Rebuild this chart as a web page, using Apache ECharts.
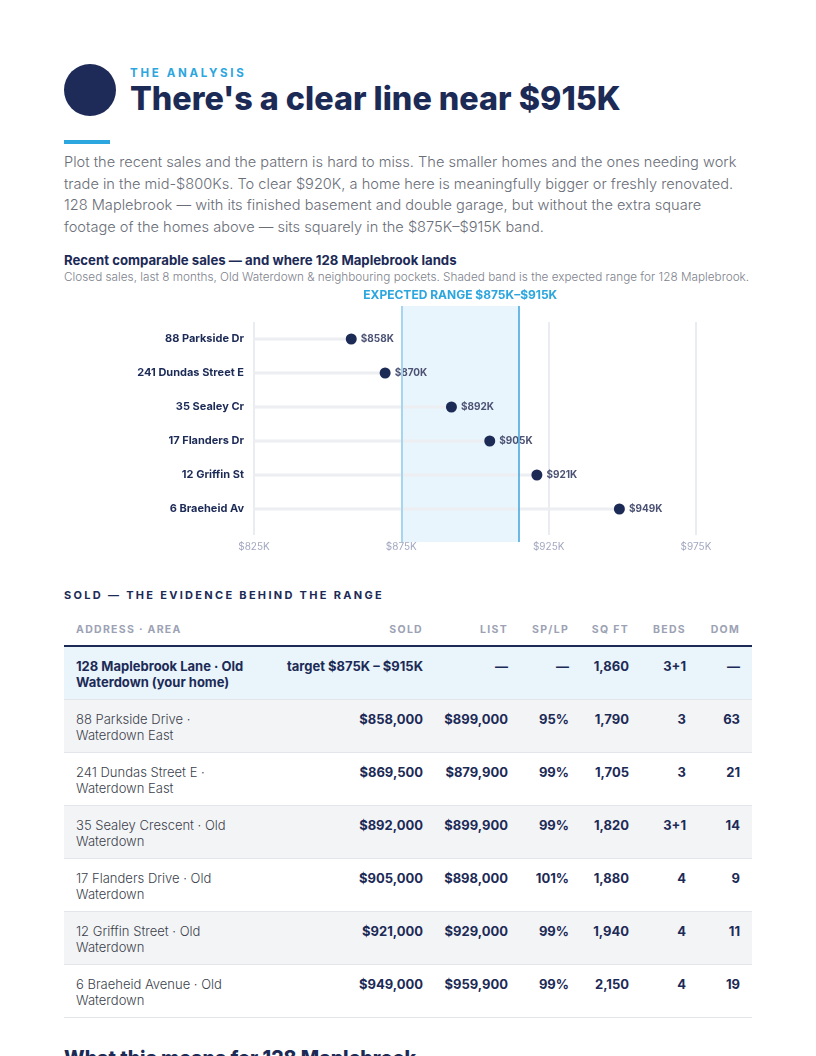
<!DOCTYPE html>
<html>
<head>
<meta charset="utf-8">
<script src="https://cdn.jsdelivr.net/npm/echarts@6/dist/echarts.min.js"></script>
<style>
  html, body { margin: 0; padding: 0; background: #fff; }
  body { width: 816px; height: 1056px; position: relative; overflow: hidden; font-family: Inter, "Noto Sans", sans-serif; color: #1c2a56; }
  .abs { position: absolute; }
  .dot { left: 64px; top: 64px; width: 52px; height: 52px; border-radius: 50%; background: #1e2b58; }
  .eyebrow { left: 130px; top: 66px; font-size: 11.5px; font-weight: 700; letter-spacing: 2.7px; color: #2ba6de; line-height: 14px; }
  .title { left: 130px; top: 79px; font-size: 32.3px; font-weight: 800; letter-spacing: 0; line-height: 40px; color: #1c2a56; white-space: nowrap; }
  .rule { left: 64px; top: 140px; width: 46px; height: 4px; background: #2ba6de; }
  .lead { left: 64px; top: 152px; font-size: 14.6px; line-height: 21.6px; font-weight: 300; color: #6a6e78; white-space: nowrap; }
  .ctitle { left: 64px; top: 252px; font-size: 13.2px; font-weight: 700; line-height: 16px; white-space: nowrap; }
  .csub { left: 64px; top: 270px; font-size: 11.75px; line-height: 14px; font-weight: 300; color: #7e828c; white-space: nowrap; }
  #chart { left: 0; top: 280px; width: 816px; height: 285px; }
  .sold { left: 64px; top: 588px; font-size: 11px; font-weight: 700; letter-spacing: 2.3px; line-height: 14px; white-space: nowrap; }
  table { position: absolute; left: 64px; top: 612px; width: 688px; border-collapse: collapse; table-layout: fixed; }
  th { font-size: 10.5px; font-weight: 700; letter-spacing: 1.3px; color: #9ca2b4; text-align: right; padding: 10px 12px 7px 0; line-height: 16px; border-bottom: 2px solid #1c2a56; }
  th:first-child { text-align: left; padding-left: 12px; }
  td { font-size: 13px; line-height: 16px; text-align: right; vertical-align: top; padding: 11px 12px 9px 0; border-bottom: 1px solid #e3e5ea; font-weight: 700; color: #1c2a56; height: 32px; }
  td:first-child { text-align: left; padding-left: 12px; font-weight: 300; color: #3b3f4c; }
  tr.you td { background: #e9f4fb; }
  tr.you td:first-child { font-weight: 700; color: #1c2a56; }
  tr.g td { background: #f3f4f6; }
  .next { left: 64px; top: 1046px; font-size: 19.5px; font-weight: 800; line-height: 24px; white-space: nowrap; }
</style>
</head>
<body>
<div class="abs dot"></div>
<div class="abs eyebrow">THE ANALYSIS</div>
<div class="abs title">There's a clear line near $915K</div>
<div class="abs rule"></div>
<div class="abs lead">Plot the recent sales and the pattern is hard to miss. The smaller homes and the ones needing work<br>trade in the mid-$800Ks. To clear $920K, a home here is meaningfully bigger or freshly renovated.<br>128 Maplebrook — with its finished basement and double garage, but without the extra square<br>footage of the homes above — sits squarely in the $875K–$915K band.</div>
<div class="abs ctitle">Recent comparable sales — and where 128 Maplebrook lands</div>
<div class="abs csub">Closed sales, last 8 months, Old Waterdown &amp; neighbouring pockets. Shaded band is the expected range for 128 Maplebrook.</div>
<div class="abs" id="chart"></div>
<div class="abs sold">SOLD — THE EVIDENCE BEHIND THE RANGE</div>
<table>
  <colgroup><col style="width:210px"><col style="width:161px"><col style="width:85px"><col style="width:61px"><col style="width:60px"><col style="width:57px"><col style="width:54px"></colgroup>
  <thead><tr><th>ADDRESS · AREA</th><th>SOLD</th><th>LIST</th><th>SP/LP</th><th>SQ FT</th><th>BEDS</th><th>DOM</th></tr></thead>
  <tbody>
    <tr class="you"><td>128 Maplebrook Lane · Old<br>Waterdown (your home)</td><td>target $875K – $915K</td><td>—</td><td>—</td><td>1,860</td><td>3+1</td><td>—</td></tr>
    <tr class="g"><td>88 Parkside Drive ·<br>Waterdown East</td><td>$858,000</td><td>$899,000</td><td>95%</td><td>1,790</td><td>3</td><td>63</td></tr>
    <tr><td>241 Dundas Street E ·<br>Waterdown East</td><td>$869,500</td><td>$879,900</td><td>99%</td><td>1,705</td><td>3</td><td>21</td></tr>
    <tr class="g"><td>35 Sealey Crescent · Old<br>Waterdown</td><td>$892,000</td><td>$899,900</td><td>99%</td><td>1,820</td><td>3+1</td><td>14</td></tr>
    <tr><td>17 Flanders Drive · Old<br>Waterdown</td><td>$905,000</td><td>$898,000</td><td>101%</td><td>1,880</td><td>4</td><td>9</td></tr>
    <tr class="g"><td>12 Griffin Street · Old<br>Waterdown</td><td>$921,000</td><td>$929,000</td><td>99%</td><td>1,940</td><td>4</td><td>11</td></tr>
    <tr><td>6 Braeheid Avenue · Old<br>Waterdown</td><td>$949,000</td><td>$959,900</td><td>99%</td><td>2,150</td><td>4</td><td>19</td></tr>
  </tbody>
</table>
<div class="abs next">What this means for 128 Maplebrook</div>

<script>
// comparable sales, sold price in $K
const homes = ['88 Parkside Dr', '241 Dundas Street E', '35 Sealey Cr', '17 Flanders Dr', '12 Griffin St', '6 Braeheid Av'];
const soldK = [858, 869.5, 892, 905, 921, 949];
// expected range for 128 Maplebrook, $K
const rangeLow = 875;
const rangeHigh = 915;
const axisMin = 825;
const axisMax = 975;
const axisStep = 50;

const navy = '#1c2a56';
const blue = '#3ea3db';
const font = 'Inter, "Noto Sans", sans-serif';

const chart = echarts.init(document.getElementById('chart'));
chart.setOption({
  animation: false,
  textStyle: { fontFamily: font },
  grid: [
    // dots + stems
    { left: 254, width: 442, top: 42, height: 204 },
    // gridlines + tick labels
    { left: 254, width: 442, top: 42, height: 213 },
    // expected band
    { left: 254, width: 442, top: 26, height: 236 }
  ],
  xAxis: [
    { gridIndex: 0, type: 'value', min: axisMin, max: axisMax, interval: axisStep, show: false },
    {
      gridIndex: 1, type: 'value', min: axisMin, max: axisMax, interval: axisStep, z: 2,
      axisLine: { show: false }, axisTick: { show: false },
      splitLine: { show: true, lineStyle: { color: 'rgba(228,231,237,0.8)', width: 2 } },
      axisLabel: { margin: 7, fontSize: 10, color: '#a3a8c1', formatter: v => '$' + v + 'K' }
    },
    { gridIndex: 2, type: 'value', min: axisMin, max: axisMax, show: false }
  ],
  yAxis: [
    {
      gridIndex: 0, type: 'category', data: homes, inverse: true,
      axisLine: { show: false }, axisTick: { show: false }, splitLine: { show: false },
      axisLabel: { margin: 10, fontSize: 11, fontWeight: 700, color: navy }
    },
    { gridIndex: 1, type: 'value', show: false },
    { gridIndex: 2, type: 'value', min: 0, max: 1, show: false }
  ],
  series: [
    {
      type: 'line', xAxisIndex: 2, yAxisIndex: 2, data: [], z: 1, silent: true,
      markArea: {
        silent: true,
        itemStyle: { color: '#e9f5fc' },
        label: {
          show: true, position: 'top', distance: 5,
          fontSize: 12, fontWeight: 700, color: '#2ba6de',
          formatter: () => 'EXPECTED RANGE $' + rangeLow + 'K–$' + rangeHigh + 'K'
        },
        data: [[{ xAxis: rangeLow }, { xAxis: rangeHigh }]]
      },
      markLine: {
        silent: true, symbol: 'none', label: { show: false },
        lineStyle: { color: blue, width: 1.5, type: 'solid' },
        data: [
          { xAxis: rangeLow, lineStyle: { color: '#a6d5f0', width: 2 } },
          { xAxis: rangeHigh }
        ]
      }
    },
    {
      type: 'bar', xAxisIndex: 0, yAxisIndex: 0, data: soldK, barWidth: 3, z: 3,
      itemStyle: { color: '#eceef2' }, silent: true
    },
    {
      type: 'scatter', xAxisIndex: 0, yAxisIndex: 0, data: soldK, symbolSize: 11, z: 4,
      itemStyle: { color: navy, opacity: 1 },
      label: {
        show: true, position: 'right', distance: 4,
        fontSize: 10, fontWeight: 700, color: '#4b5273',
        formatter: p => '$' + Math.round(p.value) + 'K'
      }
    }
  ]
});
</script>
</body>
</html>
